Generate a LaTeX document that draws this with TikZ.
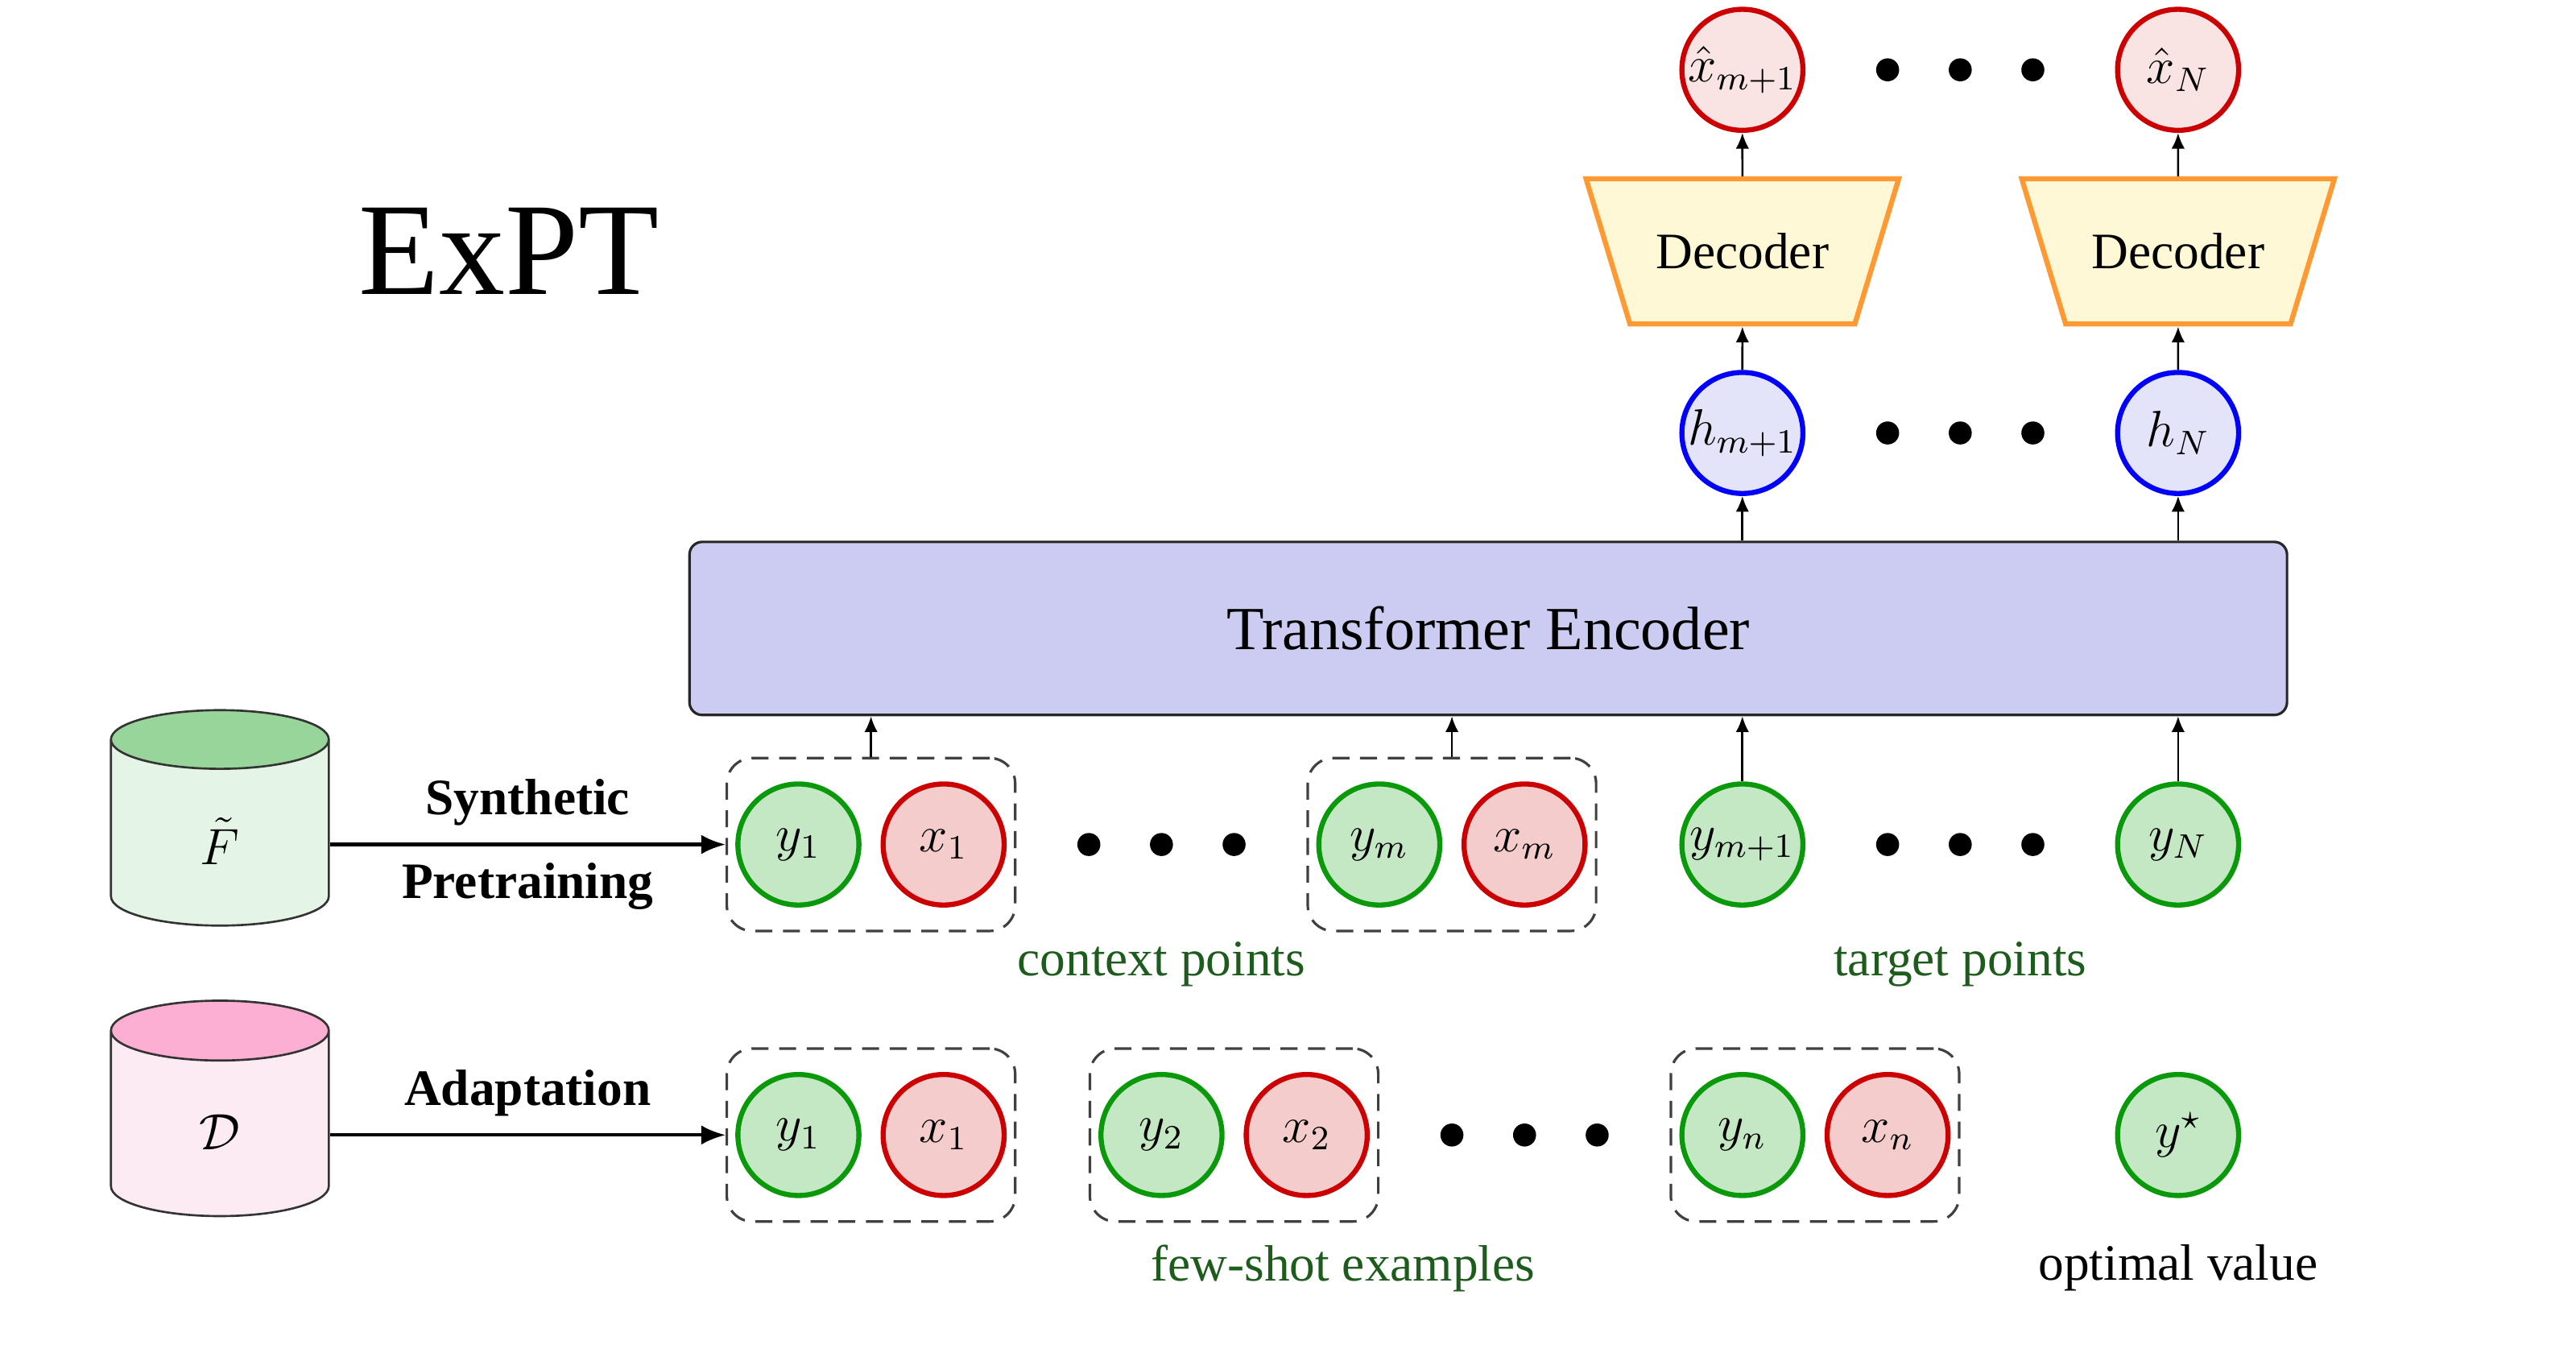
\documentclass[tikz,border=0pt,12pt]{standalone}
\usepackage{fontspec}
\setmainfont{Liberation Serif}
\usetikzlibrary{shapes.geometric, arrows.meta, fit, positioning}
\definecolor{ygreen}{HTML}{0A990A}
\definecolor{yfill}{HTML}{C4E7C4}
\definecolor{xred}{HTML}{CC0000}
\definecolor{xfill}{HTML}{F4CCCC}
\definecolor{xhatfill}{HTML}{FAE3E3}
\definecolor{hblue}{HTML}{0000FF}
\definecolor{hfill}{HTML}{E3E3FA}
\definecolor{decdraw}{HTML}{FF9933}
\definecolor{decfill}{HTML}{FFF8D6}
\definecolor{encfill}{HTML}{CCCCF2}
\definecolor{lblgreen}{HTML}{1E5C1E}
\definecolor{ftop}{HTML}{98D59A}
\definecolor{fbody}{HTML}{E4F4E5}
\definecolor{dtop}{HTML}{FCAED3}
\definecolor{dbody}{HTML}{FCEBF3}
\tikzset{
  ynode/.style={circle, draw=ygreen, fill=yfill, line width=1.2pt, minimum size=1cm, inner sep=0pt},
  xnode/.style={circle, draw=xred, fill=#1, line width=1.2pt, minimum size=1cm, inner sep=0pt},
  xnode/.default=xfill,
  hnode/.style={circle, draw=hblue, fill=hfill, line width=1.2pt, minimum size=1cm, inner sep=0pt},
  dotnode/.style={circle, fill=black, inner sep=0pt, minimum size=0.19cm},
  pair/.style={draw=black!75, dash pattern=on 4pt off 2.5pt, rounded corners=6pt, line width=0.6pt,
               inner xsep=2pt, inner ysep=5.5pt},
  feed/.style={-{Latex[length=1.3mm, width=1.1mm]}, line width=0.5pt},
  flow/.style={-{Latex[length=2mm, width=1.6mm]}, line width=0.8pt},
  decoder/.style={trapezium, trapezium stretches=true, trapezium angle=60, shape border rotate=180,
                  draw=decdraw, fill=decfill, line width=1.2pt, minimum width=2.6cm, minimum height=1.2cm},
  db/.style 2 args={cylinder, shape border rotate=90, aspect=0.8, cylinder uses custom fill,
                    cylinder end fill=#1, cylinder body fill=#2, draw=black!80, line width=0.5pt,
                    minimum width=1.8cm, minimum height=1.78cm, anchor=shape center},
  lbl/.style={text=lblgreen},
}
\begin{document}
\begin{tikzpicture}
  \useasboundingbox (-6.597,-4.167) rectangle (14.688,6.977);
  \node[font=\fontsize{31}{36}\selectfont] (title) at (-2.39,4.9) {ExPT};
  % encoder
  \node[draw=black!85, fill=encfill, rounded corners=3pt, line width=0.6pt, minimum width=13.2cm,
        minimum height=1.43cm, font=\large] (enc) at (5.7,1.785) {Transformer Encoder};
  % context and target points
  \node[ynode] (cy1) at (0,0) {$y_1$};
  \node[xnode] (cx1) at (1.2,0) {$x_1$};
  \node[ynode] (cym) at (4.8,0) {$y_m$};
  \node[xnode] (cxm) at (6.0,0) {$x_m$};
  \node[ynode] (tym) at (7.8,0) {$y_{m+1}$};
  \node[ynode] (tyN) at (11.4,0) {$y_N$};
  \node[pair, fit=(cy1)(cx1)] (p1) {};
  \node[pair, fit=(cym)(cxm)] (pm) {};
  \foreach \x [count=\i] in {2.4,3.0,3.6} \node[dotnode] (cd\i) at (\x,0) {};
  \foreach \x [count=\i] in {9.0,9.6,10.2} \node[dotnode] (td\i) at (\x,0) {};
  \node[lbl] (ctxlbl) at (3.0,-0.99) {context points};
  \node[lbl] (tgtlbl) at (9.6,-0.99) {target points};
  % few-shot examples
  \node[ynode] (fy1) at (0,-2.4) {$y_1$};
  \node[xnode] (fx1) at (1.2,-2.4) {$x_1$};
  \node[ynode] (fy2) at (3.0,-2.4) {$y_2$};
  \node[xnode] (fx2) at (4.2,-2.4) {$x_2$};
  \node[ynode] (fyn) at (7.8,-2.4) {$y_n$};
  \node[xnode] (fxn) at (9.0,-2.4) {$x_n$};
  \node[ynode] (ystar) at (11.4,-2.4) {$y^\star$};
  \node[pair, fit=(fy1)(fx1)] (q1) {};
  \node[pair, fit=(fy2)(fx2)] (q2) {};
  \node[pair, fit=(fyn)(fxn)] (qn) {};
  \foreach \x [count=\i] in {5.4,6.0,6.6} \node[dotnode] (fd\i) at (\x,-2.4) {};
  \node[lbl] (fslbl) at (4.5,-3.5) {few-shot examples};
  \node (optlbl) at (11.4,-3.5) {optimal value};
  % hidden states and decoders
  \node[hnode] (hm) at (7.8,3.4) {$h_{m+1}$};
  \node[hnode] (hN) at (11.4,3.4) {$h_N$};
  \foreach \x [count=\i] in {9.0,9.6,10.2} \node[dotnode] (hd\i) at (\x,3.4) {};
  \node[decoder] (decm) at (7.8,4.9) {Decoder};
  \node[decoder] (decN) at (11.4,4.9) {Decoder};
  \node[xnode=xhatfill] (xhm) at (7.8,6.4) {$\hat{x}_{m+1}$};
  \node[xnode=xhatfill] (xhN) at (11.4,6.4) {$\hat{x}_N$};
  \foreach \x [count=\i] in {9.0,9.6,10.2} \node[dotnode] (xd\i) at (\x,6.4) {};
  % datasets
  \node[db={ftop}{fbody}] (F) at (-4.78,0.22) {$\tilde{F}$};
  \node[db={dtop}{dbody}] (D) at (-4.78,-2.18) {$\mathcal{D}$};
  % connectors
  \draw[flow] (F.east |- p1.west) -- node[above]{\textbf{Synthetic}} node[below]{\textbf{Pretraining}} (p1.west);
  \draw[flow] (D.east |- q1.west) -- node[above]{\textbf{Adaptation}} (q1.west);
  \draw[feed] (p1.north) -- (p1.north |- enc.south);
  \draw[feed] (pm.north) -- (pm.north |- enc.south);
  \draw[feed] (tym) -- (tym |- enc.south);
  \draw[feed] (tyN) -- (tyN |- enc.south);
  \draw[feed] (hm |- enc.north) -- (hm);
  \draw[feed] (hN |- enc.north) -- (hN);
  \draw[feed] (hm) -- (decm.south);
  \draw[feed] (hN) -- (decN.south);
  \draw[feed] (decm.north) -- (xhm);
  \draw[feed] (decN.north) -- (xhN);
\end{tikzpicture}
\end{document}
